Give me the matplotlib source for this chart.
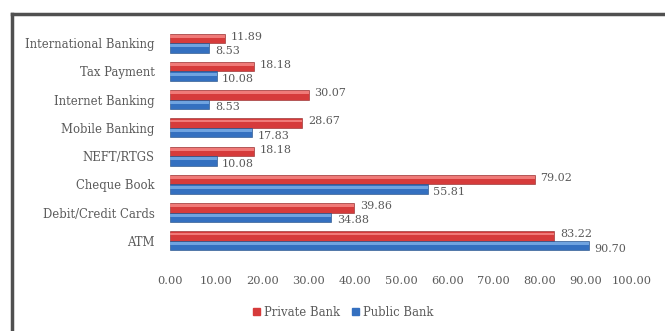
import numpy as np
import matplotlib.pyplot as plt
from matplotlib.lines import Line2D
from matplotlib.patches import Patch

services = ['International Banking', 'Tax Payment', 'Internet Banking',
            'Mobile Banking', 'NEFT/RTGS', 'Cheque Book',
            'Debit/Credit Cards', 'ATM']
private_bank = [11.89, 18.18, 30.07, 28.67, 18.18, 79.02, 39.86, 83.22]
public_bank = [8.53, 10.08, 8.53, 17.83, 10.08, 55.81, 34.88, 90.70]
ticks = np.arange(0, 101, 10)

plt.rcParams['font.family'] = ['DejaVu Serif']
text_grey = '#5a5a5a'
red, red_hi = '#d63b3b', '#f07a78'
blue, blue_hi = '#3470c0', '#6fa3e0'

fig = plt.figure(figsize=(6.65, 3.31), dpi=100)
ax = fig.add_axes([0.2556, 0.2296, 0.6948, 0.6828])

y = np.arange(len(services))
h = 0.34
# red sits above blue in each group
y_priv = y - h / 2
y_pub = y + h / 2

ax.barh(y_priv, private_bank, height=h, color=red, edgecolor='#8c2525',
        linewidth=0.4)
ax.barh(y_priv - h * 0.22, private_bank, height=h * 0.3, color=red_hi,
        linewidth=0)
ax.barh(y_pub, public_bank, height=h, color=blue, edgecolor='#1f4a80',
        linewidth=0.4)
ax.barh(y_pub - h * 0.22, public_bank, height=h * 0.3, color=blue_hi,
        linewidth=0)

for yp, v in zip(y_priv, private_bank):
    ax.text(v + 1.2, yp - 0.06, f'{v:.2f}', va='center', ha='left',
            fontsize=8, color=text_grey)
for yp, v in zip(y_pub, public_bank):
    ax.text(v + 1.2, yp + 0.1, f'{v:.2f}', va='center', ha='left',
            fontsize=8, color=text_grey)

ax.set_xlim(0, 100)
ax.set_ylim(len(services) - 0.5, -0.5)
ax.set_xticks(ticks)
ax.set_xticklabels([f'{t:.2f}' for t in ticks])
ax.set_yticks(y)
ax.set_yticklabels(services)
ax.tick_params(length=0, labelsize=8, colors=text_grey)
ax.tick_params(axis='x', pad=15, labelsize=8.2)
ax.tick_params(axis='y', pad=11, labelsize=8.4)
for s in ax.spines.values():
    s.set_visible(False)

# chart frame, top and left edges
fig.add_artist(Line2D([0.018, 1.0], [0.957, 0.957], color='#505050',
                      linewidth=2.5, transform=fig.transFigure))
fig.add_artist(Line2D([0.018, 0.018], [0.0, 0.957], color='#505050',
                      linewidth=2.5, transform=fig.transFigure))

handles = [Patch(color=red, label='Private Bank'),
           Patch(color=blue, label='Public Bank')]
fig.legend(handles=handles, loc='center', bbox_to_anchor=(0.516, 0.057),
           ncol=2, frameon=False, fontsize=8.4, handlelength=0.6,
           handleheight=0.6, handletextpad=0.35, columnspacing=1.0,
           labelcolor=text_grey)

fig.savefig('out.png', dpi=100)
